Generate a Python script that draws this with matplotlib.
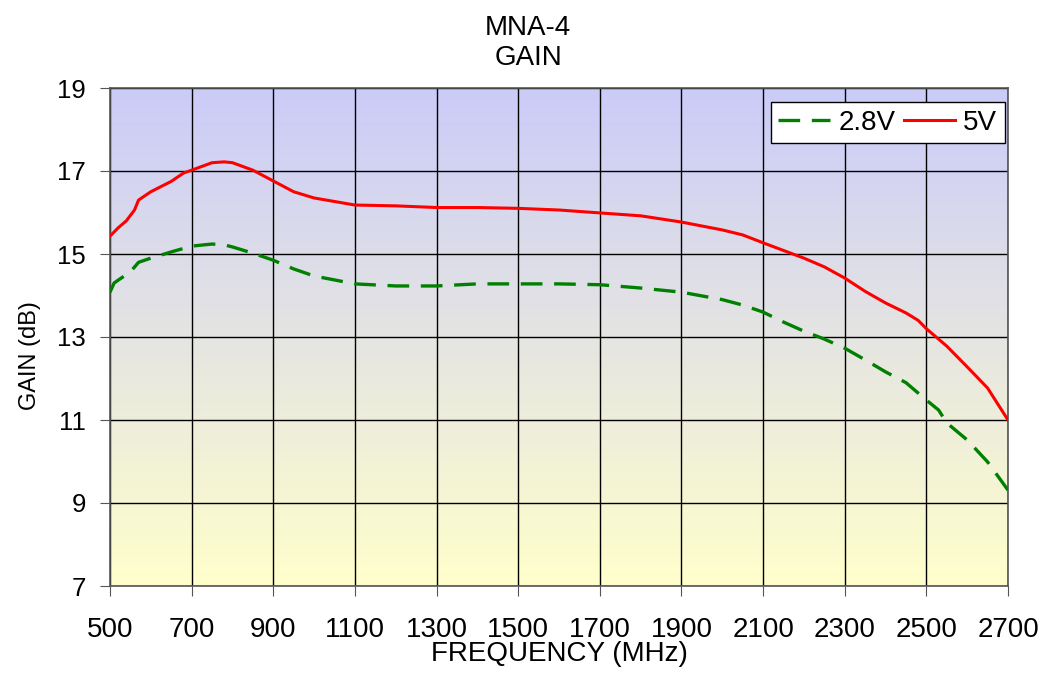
import numpy as np
import matplotlib
matplotlib.use("Agg")
import matplotlib.pyplot as plt
from matplotlib.colors import LinearSegmentedColormap

plt.rcParams['font.family'] = ['Liberation Sans', 'DejaVu Sans']

# 5V curve
freq_5v = [500, 520, 540, 560, 570, 600, 620, 650, 680, 700, 750, 780, 800, 850,
           900, 950, 1000, 1100, 1200, 1300, 1400, 1500, 1600, 1700, 1800, 1900,
           2000, 2050, 2100, 2200, 2250, 2300, 2350, 2400, 2450, 2480, 2500, 2550,
           2600, 2650, 2700]
gain_5v = [15.43, 15.63, 15.8, 16.06, 16.3, 16.5, 16.6, 16.75, 16.95, 17.02, 17.2,
           17.22, 17.2, 17.02, 16.76, 16.5, 16.35, 16.18, 16.16, 16.12, 16.12, 16.1,
           16.06, 15.99, 15.92, 15.77, 15.58, 15.46, 15.27, 14.9, 14.69, 14.42, 14.1,
           13.82, 13.58, 13.4, 13.2, 12.78, 12.28, 11.77, 11.0]

# 2.8V curve
freq_28v = [500, 510, 520, 550, 570, 600, 650, 700, 750, 780, 800, 850, 900, 950,
            1000, 1100, 1200, 1300, 1400, 1500, 1600, 1700, 1800, 1900, 2000, 2050,
            2100, 2150, 2200, 2250, 2300, 2350, 2400, 2450, 2500, 2530, 2550, 2600,
            2650, 2700]
gain_28v = [14.08, 14.3, 14.37, 14.57, 14.8, 14.9, 15.05, 15.19, 15.24, 15.22, 15.17,
            15.02, 14.85, 14.64, 14.47, 14.28, 14.23, 14.23, 14.28, 14.28, 14.28,
            14.26, 14.18, 14.08, 13.9, 13.77, 13.6, 13.36, 13.14, 12.95, 12.73, 12.45,
            12.16, 11.9, 11.48, 11.24, 10.93, 10.52, 9.99, 9.31]

x_ticks = list(range(500, 2701, 200))
y_ticks = [7, 9, 11, 13, 15, 17, 19]

fig = plt.figure(figsize=(10.47, 6.77), dpi=100)
ax = fig.add_axes([110 / 1047, 1 - 586 / 677, 898 / 1047, 498 / 677])

# background gradient (yellow at bottom -> lavender at top)
cmap = LinearSegmentedColormap.from_list('bg', ['#ffffcc', '#cbcbf9'])
grad = np.linspace(0, 1, 256).reshape(-1, 1)
ax.imshow(grad, cmap=cmap, aspect='auto', origin='lower',
          extent=[500, 2700, 7, 19], zorder=0)

ax.plot(freq_28v, gain_28v, color='#008000', lw=2.4, dashes=(6.5, 3.5), label='2.8V', zorder=3)
ax.plot(freq_5v, gain_5v, color='#ff0000', lw=2.2, label='5V', zorder=3)

ax.set_xlim(500, 2700)
ax.set_ylim(7, 19)
ax.set_xticks(x_ticks)
ax.set_yticks(y_ticks)
ax.grid(True, color='black', lw=1.0, zorder=1)
ax.tick_params(length=7.2, direction='out', color='#555555')
ax.tick_params(axis='x', labelsize=20, pad=15)
ax.tick_params(axis='y', labelsize=18.5, pad=10)
for s in ax.spines.values():
    s.set_color('#555555')
    s.set_linewidth(1.2)

ax.set_xlabel('FREQUENCY (MHz)', fontsize=20, labelpad=-1)
ax.set_ylabel('GAIN (dB)', fontsize=17)
ax.yaxis.set_label_coords(-0.077, 0.462)

# title centred a little left of the plot centre, as in the original
fig.text(528 / 1047, 1 - 65 / 677, 'MNA-4\nGAIN', fontsize=20, ha='center',
         va='baseline', linespacing=1.2)

leg = ax.legend(loc='upper right', ncol=2, fontsize=20, fancybox=False,
                framealpha=1, edgecolor='black', handlelength=1.85,
                columnspacing=0.3, handletextpad=0.3, borderpad=0.28,
                borderaxespad=0, bbox_to_anchor=(0.9967, 0.972))
leg.get_frame().set_linewidth(1.0)

fig.savefig('out.png', dpi=100)
